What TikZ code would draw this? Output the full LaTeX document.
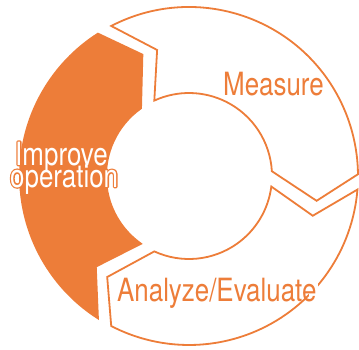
\documentclass[tikz,border=0pt]{standalone}
\usepackage{fontspec}
\setmainfont{TeX Gyre Heros}[FakeStretch=0.81]
\usetikzlibrary{backgrounds}
\definecolor{cyc}{RGB}{237,125,57}
\newcommand{\Ro}{169}
\newcommand{\Ri}{83}
\newcommand{\Rm}{130}
\newcommand{\go}{2.6}
\newcommand{\gi}{5.3}
\newcommand{\gm}{3.4}
\newcommand{\dep}{12.4}
% segment path from boundary #1 (larger angle) to #2
\newcommand{\segpath}[2]{%
  ({#1-\go}:\Ro) arc[start angle={#1-\go}, end angle={#2+\go}, radius=\Ro]
  -- ({#2+\gm-\dep}:\Rm) -- ({#2+\gi}:\Ri)
  arc[start angle={#2+\gi}, end angle={#1-\gi}, radius=\Ri]
  -- ({#1-\gm-\dep}:\Rm) -- cycle}
% orange stroked glyph outlines (text render mode 1: stroke only)
\newcommand{\strktext}[1]{\special{pdf:literal direct 1 Tr 2.6 w 1 j 0.929 0.490 0.224 RG}#1\special{pdf:literal direct 0 Tr}}
\begin{document}
\begin{tikzpicture}[x=1pt,y=1pt,
  seg/.style={draw=cyc, line width=1.8pt, line join=miter, fill=white},
  segfill/.style={draw=cyc, line width=1.8pt, line join=miter, fill=cyc},
  halo/.style={fill=white, draw=none},
  lbl/.style={inner sep=0pt, anchor=base west, font=\fontsize{32}{32}\selectfont, text=cyc},
  wlbl/.style={inner sep=0pt, anchor=base west, font=\fontsize{32}{32}\selectfont, text=white}]
\useasboundingbox (-189,-173) rectangle (170,176);
\node[lbl] (measure) at (34,81) {Measure};
\node[lbl] (analyze) at (-72,-125) {Analyze/Evaluate};
\begin{pgfonlayer}{background}
\path[segfill] \segpath{240}{120};
\path[seg] \segpath{120}{-2};
\path[seg] \segpath{-2}{-120};
\path[halo] ([xshift=-8pt,yshift=-1.5pt]measure.base east) rectangle ([xshift=1.5pt,yshift=18pt]measure.base east);
\path[halo] ([xshift=-8pt,yshift=-1.5pt]analyze.base east) rectangle ([xshift=1.5pt,yshift=18pt]analyze.base east);
\end{pgfonlayer}
\node[wlbl] (improveo) at (-174,11) {\strktext{Improve}};
\node[wlbl] (operationo) at (-179,-11) {\strktext{operation}};
\node[wlbl] (improve) at (-174,11) {Improve};
\node[wlbl] (operation) at (-179,-11) {operation};
\end{tikzpicture}
\end{document}
